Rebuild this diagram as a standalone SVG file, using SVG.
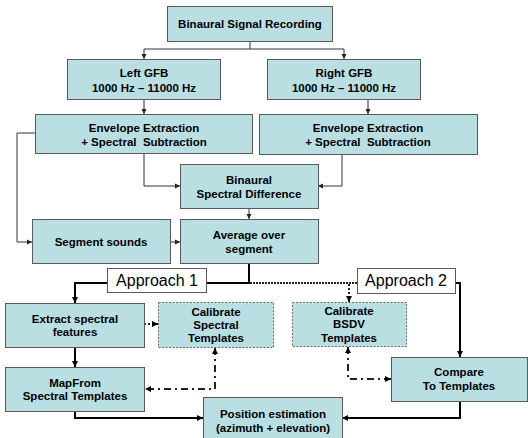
<svg xmlns="http://www.w3.org/2000/svg" width="528" height="438" viewBox="0 0 528 438">
<style>
.box{fill:#B9DFE3;stroke:#5a5a5a;stroke-width:1}
.dbox{fill:#B9DFE3;stroke:#6a6a6a;stroke-width:1;stroke-dasharray:2 1.5}
.lbl{fill:#ffffff;stroke:#5a5a5a;stroke-width:1}
text{font-family:"Liberation Sans",Arial,sans-serif;font-size:11.5px;font-weight:bold;fill:#000;text-anchor:middle}
.ap{font-size:16px;font-weight:normal}
.thin{fill:none;stroke:#333;stroke-width:1;marker-end:url(#a1)}
.thinn{fill:none;stroke:#333;stroke-width:1}
.thick{fill:none;stroke:#000;stroke-width:2}
.thicka{fill:none;stroke:#000;stroke-width:2;marker-end:url(#a2)}
.dot{fill:none;stroke:#222;stroke-width:2;stroke-dasharray:2 1}
.dota{fill:none;stroke:#222;stroke-width:2;stroke-dasharray:2 2;marker-end:url(#a2)}
.dd{fill:none;stroke:#222;stroke-width:2;stroke-dasharray:7 4 2 4;marker-start:url(#a2);marker-end:url(#a2)}
</style>
<defs>
<marker id="a1" markerUnits="userSpaceOnUse" markerWidth="6" markerHeight="6" refX="5" refY="3" orient="auto-start-reverse"><path d="M0,0.5 L5,3 L0,5.5 z" fill="#222"/></marker>
<marker id="a2" markerUnits="userSpaceOnUse" markerWidth="7" markerHeight="7" refX="6" refY="3.5" orient="auto-start-reverse"><path d="M0,0.5 L6,3.5 L0,6.5 z" fill="#000"/></marker>
</defs>
<g id="connectors">
<path class="thinn" d="M250,41 V49 M144,49 H344"/>
<path class="thin" d="M144,49 V59"/>
<path class="thin" d="M344,49 V59"/>
<path class="thin" d="M144,99 V114"/>
<path class="thin" d="M368,99 V114"/>
<path class="thin" d="M144,153 V186 H180"/>
<path class="thin" d="M342,154 V186 H318"/>
<path class="thin" d="M35,133 H17 V242 H32"/>
<path class="thin" d="M249,208 V219"/>
<path class="thin" d="M170,242 H180"/>
<path class="thick" d="M249,263 V283 H206"/>
<path class="thicka" d="M107,283 H75 V303"/>
<path class="thicka" d="M455,283 H460 V357"/>
<path class="thicka" d="M75,347 V367"/>
<path class="thicka" d="M75,411 V418 H203"/>
<path class="thicka" d="M460,401 V418 H342"/>
<path class="dot" d="M250,283 H357"/>
<path class="dota" d="M349,284 V302"/>
<path class="dota" d="M144,324 H158"/>
<path class="dd" d="M215,348 V389 H145"/>
<path class="dd" d="M348,347 V379 H391"/>
</g>
<g id="n-recording"><rect class="box" x="167.5" y="6.5" width="165" height="35"/><text x="250" y="28">Binaural Signal Recording</text></g>
<g id="n-leftgfb"><rect class="box" x="67.5" y="59.5" width="153" height="40"/><text x="144" y="77">Left GFB</text><text x="144" y="91.5">1000 Hz – 11000 Hz</text></g>
<g id="n-rightgfb"><rect class="box" x="267.5" y="59.5" width="153" height="40"/><text x="344" y="77">Right GFB</text><text x="344" y="91.5">1000 Hz – 11000 Hz</text></g>
<g id="n-envl"><rect class="box" x="35.5" y="114.5" width="217" height="39"/><text x="144" y="131.5">Envelope Extraction</text><text x="144" y="145.5" xml:space="preserve">+ Spectral  Subtraction</text></g>
<g id="n-envr"><rect class="box" x="259.5" y="114.5" width="218" height="40"/><text x="368" y="131.5">Envelope Extraction</text><text x="368" y="145.5" xml:space="preserve">+ Spectral  Subtraction</text></g>
<g id="n-bsd"><rect class="box" x="180.5" y="164.5" width="138" height="44"/><text x="249" y="184">Binaural</text><text x="249" y="198">Spectral Difference</text></g>
<g id="n-segment"><rect class="box" x="32.5" y="219.5" width="138" height="44"/><text x="101" y="246">Segment sounds</text></g>
<g id="n-average"><rect class="box" x="180.5" y="219.5" width="138" height="44"/><text x="249" y="239">Average over</text><text x="249" y="252.5">segment</text></g>
<g id="n-approach1"><rect class="lbl" x="107.5" y="268.5" width="99" height="24"/><text class="ap" x="157" y="286">Approach 1</text></g>
<g id="n-approach2"><rect class="lbl" x="357.5" y="268.5" width="98" height="25"/><text class="ap" x="406" y="286">Approach 2</text></g>
<g id="n-extract"><rect class="box" x="5.5" y="303.5" width="139" height="44"/><text x="75" y="322.5">Extract spectral</text><text x="75" y="336">features</text></g>
<g id="n-calspec"><rect class="dbox" x="158.5" y="302.5" width="115" height="45"/><text x="216" y="315.5">Calibrate</text><text x="216" y="329">Spectral</text><text x="216" y="342.3">Templates</text></g>
<g id="n-calbsdv"><rect class="dbox" x="292.5" y="302.5" width="114" height="44"/><text x="349" y="315">Calibrate</text><text x="349" y="328">BSDV</text><text x="349" y="341.7">Templates</text></g>
<g id="n-mapfrom"><rect class="box" x="5.5" y="367.5" width="139" height="44"/><text x="75" y="386.5">MapFrom</text><text x="75" y="400">Spectral Templates</text></g>
<g id="n-compare"><rect class="box" x="391.5" y="357.5" width="136" height="44"/><text x="459" y="376">Compare</text><text x="459" y="390">To Templates</text></g>
<g id="n-position"><rect class="box" x="203.5" y="397.5" width="139" height="43"/><text x="273" y="418">Position estimation</text><text x="273" y="432">(azimuth + elevation)</text></g>
</svg>
